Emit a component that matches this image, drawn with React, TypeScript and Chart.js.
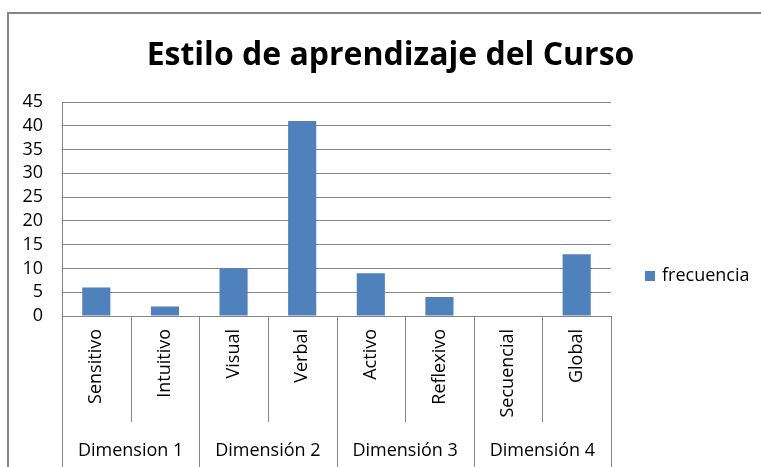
import React, { useEffect, useRef } from "react";
import { Chart, registerables } from "chart.js";

Chart.register(...registerables);

const chartTitle = "Estilo de aprendizaje del Curso";
const seriesName = "frecuencia";
const categories = ["Sensitivo", "Intuitivo", "Visual", "Verbal", "Activo", "Reflexivo", "Secuencial", "Global"];
const groupLabels = ["Dimension 1", "Dimensión 2", "Dimensión 3", "Dimensión 4"];
const groupSizes = [2, 2, 2, 2];
const frecuencia = [6, 2, 10, 41, 9, 4, 0, 13];
const yMin = 0;
const yMax = 45;
const yStep = 5;

const FONT = "'Open Sans', sans-serif";
const GRID = "#868686";
const BAR = "#4F81BD";

export default function App() {
  const ref = useRef<HTMLCanvasElement | null>(null);

  useEffect(() => {
    const canvas = ref.current;
    if (!canvas) return;

    const decor = {
      id: "decor",
      afterDraw(chart: any) {
        const ctx = chart.ctx;
        const area = chart.chartArea;
        const xs = chart.scales.x;
        ctx.save();
        // frame
        ctx.strokeStyle = GRID;
        ctx.lineWidth = 2;
        ctx.beginPath();
        ctx.moveTo(8, 467);
        ctx.lineTo(8, 13);
        ctx.lineTo(761, 13);
        ctx.stroke();

        // title
        ctx.fillStyle = "#000";
        ctx.font = `bold 32px ${FONT}`;
        ctx.textAlign = "center";
        ctx.textBaseline = "alphabetic";
        ctx.fillText(chartTitle, 390.5, 65);

        // category separators and group labels
        ctx.strokeStyle = GRID;
        ctx.lineWidth = 1;
        const n = categories.length;
        let idx = 0;
        const boundaries: number[] = [0];
        groupSizes.forEach((s) => {
          idx += s;
          boundaries.push(idx);
        });
        for (let i = 0; i <= n; i++) {
          const x = Math.round(xs.getPixelForValue(i - 0.5)) + 0.5;
          const isGroup = boundaries.includes(i);
          ctx.beginPath();
          ctx.moveTo(x, area.bottom);
          ctx.lineTo(x, isGroup ? 467 : 422);
          ctx.stroke();
        }
        ctx.font = `18px ${FONT}`;
        ctx.textAlign = "center";
        ctx.textBaseline = "middle";
        ctx.fillStyle = "#000";
        groupLabels.forEach((g, gi) => {
          const a = xs.getPixelForValue(boundaries[gi] - 0.5);
          const b = xs.getPixelForValue(boundaries[gi + 1] - 0.5);
          ctx.fillText(g, (a + b) / 2, 451);
        });

        // legend
        ctx.fillStyle = BAR;
        ctx.fillRect(645, 271, 10, 10);
        ctx.fillStyle = "#000";
        ctx.textAlign = "left";
        ctx.textBaseline = "middle";
        ctx.font = `18px ${FONT}`;
        ctx.fillText(seriesName, 662, 276);
        ctx.restore();
      },
    };

    const chart = new Chart(canvas, {
      type: "bar",
      data: {
        labels: categories,
        datasets: [
          {
            label: seriesName,
            data: frecuencia,
            backgroundColor: BAR,
            borderWidth: 0,
            categoryPercentage: 1,
            barPercentage: 0.41,
          },
        ],
      },
      options: {
        responsive: false,
        animation: false,
        devicePixelRatio: 1,
        layout: { padding: { top: 102, left: 8, right: 150, bottom: 0 } },
        plugins: {
          legend: { display: false },
          title: { display: false },
          tooltip: { enabled: false },
        },
        scales: {
          x: {
            grid: { display: false, drawTicks: false },
            border: { display: true, color: GRID },
            ticks: {
              autoSkip: false,
              minRotation: 90,
              maxRotation: 90,
              padding: 13,
              color: "#000",
              font: { family: FONT, size: 18 },
            },
            afterFit: (scale: any) => {
              scale.height = 151;
            },
          },
          y: {
            min: yMin,
            max: yMax,
            grid: { color: GRID, drawTicks: false },
            border: { display: true, color: GRID },
            ticks: {
              stepSize: yStep,
              autoSkip: false,
              padding: 19,
              color: "#000",
              font: { family: FONT, size: 18 },
            },
            afterFit: (scale: any) => {
              scale.width = 54;
            },
          },
        },
      },
      plugins: [decor],
    });

    return () => chart.destroy();
  }, []);

  return (
    <div style={{ position: "absolute", left: 0, top: 0, width: 761, height: 467, background: "#fff" }}>
      <canvas ref={ref} width={761} height={467} style={{ display: "block" }} />
    </div>
  );
}
